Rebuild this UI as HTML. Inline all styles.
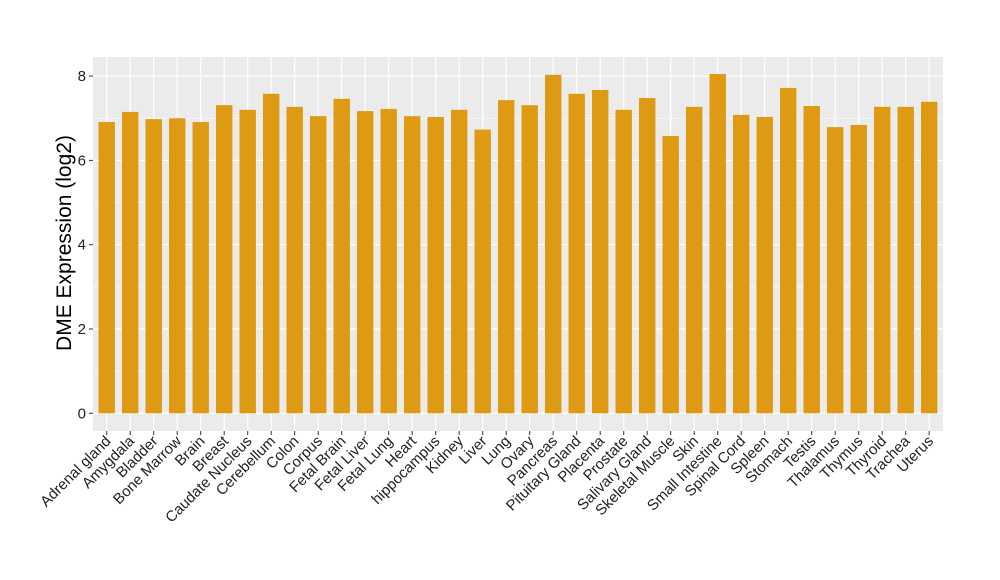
<!DOCTYPE html>
<html><head><meta charset="utf-8"><style>html,body{margin:0;padding:0;background:#fff}svg{display:block}</style></head>
<body>
<svg id="s" width="1000" height="580" xmlns="http://www.w3.org/2000/svg" font-family="Liberation Sans, Arial, sans-serif">
<rect width="1000" height="580" fill="#fff"/>
<rect x="93" y="57" width="850" height="374" fill="#EBEBEB"/>
<g id="g"></g>
<text transform="translate(71,243) rotate(-90)" text-anchor="middle" font-size="21" fill="#000">DME Expression (log2)</text>
</svg>
<script>
var names=["Adrenal gland","Amygdala","Bladder","Bone Marrow","Brain","Breast","Caudate Nucleus","Cerebellum","Colon","Corpus","Fetal Brain","Fetal Liver","Fetal Lung","Heart","hippocampus","Kidney","Liver","Lung","Ovary","Pancreas","Pituitary Gland","Placenta","Prostate","Salivary Gland","Skeletal Muscle","Skin","Small Intestine","Spinal Cord","Spleen","Stomach","Testis","Thalamus","Thymus","Thyroid","Trachea","Uterus"];
var v=[6.91,7.15,6.98,7.0,6.91,7.31,7.2,7.58,7.27,7.05,7.46,7.17,7.22,7.05,7.03,7.2,6.73,7.43,7.31,8.03,7.58,7.67,7.2,7.48,6.58,7.27,8.05,7.08,7.03,7.72,7.29,6.79,6.84,7.27,7.27,7.39];
var y0=413.3,k=42.15,x0=106.7,dx=23.5,bw=16.4,h='';
for(var i=1;i<=7;i+=2)h+='<line x1="93" x2="943" y1="'+(y0-i*k)+'" y2="'+(y0-i*k)+'" stroke="#fff" stroke-width="0.6"/>';
for(var i=0;i<=8;i+=2){var y=y0-i*k;h+='<line x1="93" x2="943" y1="'+y+'" y2="'+y+'" stroke="#fff" stroke-width="1.2"/>';
h+='<line x1="89" x2="93" y1="'+y+'" y2="'+y+'" stroke="#333" stroke-width="1"/>';
h+='<text x="86" y="'+(y+5)+'" text-anchor="end" font-size="15" fill="#222">'+i+'</text>';}
for(var j=0;j<36;j++){var cx=x0+j*dx;h+='<line x1="'+cx+'" x2="'+cx+'" y1="57" y2="431" stroke="#fff" stroke-width="1.2"/>';}
for(var j=0;j<36;j++){var cx=x0+j*dx,t=y0-v[j]*k;
h+='<rect x="'+(cx-bw/2)+'" y="'+t+'" width="'+bw+'" height="'+(y0-t)+'" fill="#DE9A13"/>';
h+='<line x1="'+cx+'" x2="'+cx+'" y1="431" y2="435" stroke="#333" stroke-width="1"/>';
h+='<text transform="translate('+(cx+5)+',442) rotate(-45)" text-anchor="end" font-size="15" fill="#222">'+names[j]+'</text>';}
document.getElementById('g').innerHTML=h;
</script>
</body></html>
